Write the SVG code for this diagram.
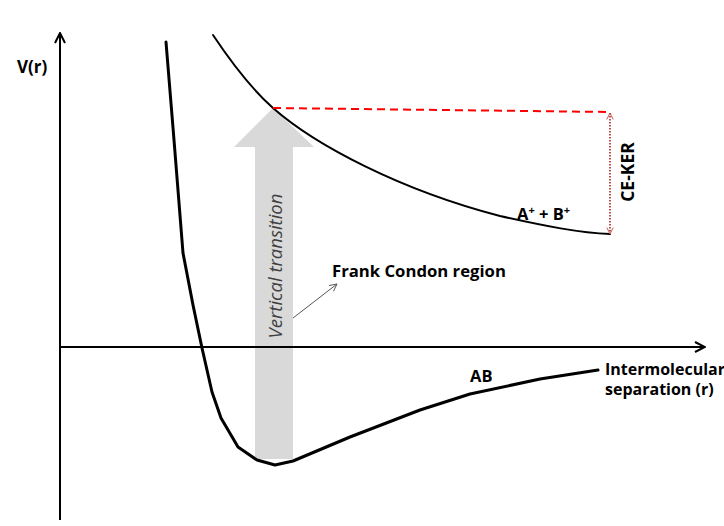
<svg xmlns="http://www.w3.org/2000/svg" width="724" height="526" viewBox="0 0 724 526">
<style>
text{font-family:"Open Sans","Liberation Sans",sans-serif;font-weight:bold;fill:#000}
.ax{stroke:#000;stroke-width:2;fill:none}
.curve{stroke:#000;fill:none;stroke-linejoin:round;stroke-linecap:round}
</style>
<defs>
<marker id="chev" viewBox="0 0 12 12" refX="11" refY="6" markerWidth="12" markerHeight="12" markerUnits="userSpaceOnUse" orient="auto">
<path d="M1,1 L11,6 L1,11" fill="none" stroke="#000" stroke-width="2"/>
</marker>
<marker id="small" viewBox="0 0 10 10" refX="9" refY="5" markerWidth="9" markerHeight="9" markerUnits="userSpaceOnUse" orient="auto">
<path d="M1,1 L9,5 L1,9" fill="none" stroke="#555" stroke-width="1"/>
</marker>
<marker id="dot" viewBox="0 0 10 10" refX="9" refY="5" markerWidth="8" markerHeight="8" markerUnits="userSpaceOnUse" orient="auto-start-reverse">
<path d="M1,1 L9,5 L1,9" fill="none" stroke="#c0504d" stroke-width="1.2"/>
</marker>
</defs>
<g id="transition-arrow">
<polygon points="255,459 293,459 293,147 314,147 273,108 234,147 255,147" fill="#d9d9d9"/>
<text transform="translate(282,266) rotate(-90)" text-anchor="middle" font-size="18.5" style="font-weight:normal;font-style:italic;fill:#404040">Vertical transition</text>
</g>
<g id="axes">
<line class="ax" x1="60" y1="520" x2="60" y2="33" marker-end="url(#chev)"/>
<line class="ax" x1="60" y1="347" x2="705" y2="347" marker-end="url(#chev)"/>
<text x="17" y="73" font-size="17">V(r)</text>
<text x="605" y="375" font-size="16">Intermolecular</text>
<text x="605" y="395" font-size="16">separation (r)</text>
</g>
<g id="ionic-curve">
<path class="curve" stroke-width="2" d="M213,35 C235,68 255,92 273,108 C315,145 400,190 500,216 C545,226 580,233 610,234"/>
<text x="517" y="220" font-size="16.5">A<tspan dy="-6" font-size="11">+</tspan><tspan dy="6"> + B</tspan><tspan dy="-6" font-size="11">+</tspan></text>
</g>
<g id="ground-curve">
<polyline class="curve" stroke-width="3" points="166,42 174,140 183,253 193,305 202,348 212,392 221,418 238,447 257,460 275,465 293,461 350,437 420,410 470,394 540,379 598,370"/>
<text x="470" y="382" font-size="16.5">AB</text>
</g>
<g id="connectors">
<line x1="273" y1="108" x2="610" y2="112" stroke="#ff0000" stroke-width="2" stroke-dasharray="8,5"/>
<line x1="610" y1="113" x2="610" y2="234" stroke="#c0504d" stroke-width="2" stroke-dasharray="1.5,1.5" marker-start="url(#dot)" marker-end="url(#dot)"/>
<line x1="293" y1="318" x2="337" y2="284" stroke="#555" stroke-width="1" marker-end="url(#small)"/>
</g>
<g id="labels">
<text transform="translate(634,172) rotate(-90)" text-anchor="middle" font-size="17.5">CE-KER</text>
<text x="332" y="277" font-size="16.7">Frank Condon region</text>
</g>
</svg>
